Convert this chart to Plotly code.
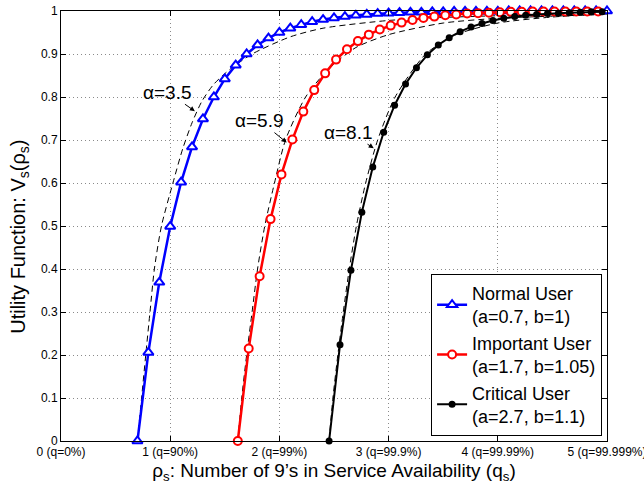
import plotly.graph_objects as go

# Availability axis: number of nines, rho_s
tick_vals = [0, 1, 2, 3, 4, 5]
tick_text = ["0 (q=0%)", "1 (q=90%)", "2 (q=99%)", "3 (q=99.9%)",
             "4 (q=99.99%)", "5 (q=99.999%)"]
y_ticks = [0, 0.1, 0.2, 0.3, 0.4, 0.5, 0.6, 0.7, 0.8, 0.9, 1.0]
y_tick_text = ["0", "0.1", "0.2", "0.3", "0.4", "0.5", "0.6", "0.7", "0.8", "0.9", "1"]

# Normal user (a=0.7, b=1)
normal_x = [0.7, 0.8, 0.9, 1.0, 1.1, 1.2, 1.3, 1.4, 1.5, 1.6, 1.7, 1.8, 1.9, 2.0,
            2.1, 2.2, 2.3, 2.4, 2.5, 2.6, 2.7, 2.8, 2.9, 3.0, 3.1, 3.2, 3.3, 3.4,
            3.5, 3.6, 3.7, 3.8, 3.9, 4.0, 4.1, 4.2, 4.3, 4.4, 4.5, 4.6, 4.7, 4.8,
            4.9, 5.0]
normal_v = [0.000, 0.206, 0.369, 0.499, 0.602, 0.684, 0.749, 0.800, 0.842, 0.874,
            0.900, 0.921, 0.937, 0.950, 0.960, 0.968, 0.975, 0.980, 0.984, 0.987,
            0.990, 0.992, 0.994, 0.995, 0.996, 0.997, 0.997, 0.998, 0.998, 0.999,
            0.999, 0.999, 0.999, 0.999, 1.000, 1.000, 1.000, 1.000, 1.000, 1.000,
            1.000, 1.000, 1.000, 1.000]

# Important user (a=1.7, b=1.05)
important_x = [1.619, 1.719, 1.819, 1.919, 2.019, 2.119, 2.219, 2.319, 2.419, 2.519,
               2.619, 2.719, 2.819, 2.919, 3.019, 3.119, 3.219, 3.319, 3.419, 3.519,
               3.619, 3.719, 3.819, 3.919, 4.019, 4.119, 4.219, 4.319, 4.419, 4.519,
               4.619, 4.719, 4.819, 4.919]
important_v = [0.000, 0.215, 0.383, 0.516, 0.620, 0.701, 0.766, 0.816, 0.855, 0.887,
               0.911, 0.930, 0.945, 0.957, 0.966, 0.973, 0.979, 0.984, 0.987, 0.990,
               0.992, 0.994, 0.995, 0.996, 0.997, 0.998, 0.998, 0.999, 0.999, 0.999,
               0.999, 0.999, 0.999, 0.999]

# Critical user (a=2.7, b=1.1)
critical_x = [2.455, 2.555, 2.655, 2.755, 2.855, 2.955, 3.055, 3.155, 3.255, 3.355,
              3.455, 3.555, 3.655, 3.755, 3.855, 3.955, 4.055, 4.155, 4.255, 4.355,
              4.455, 4.555, 4.655, 4.755, 4.855, 4.955]
critical_v = [0.000, 0.224, 0.397, 0.532, 0.637, 0.718, 0.781, 0.830, 0.868, 0.898,
              0.921, 0.938, 0.952, 0.963, 0.971, 0.978, 0.983, 0.987, 0.990, 0.992,
              0.994, 0.995, 0.996, 0.997, 0.998, 0.998]

# Fitted approximations (dashed)
fit_normal_x = [0.70, 0.738, 0.776, 0.815, 0.855, 0.92, 1.025, 1.115, 1.20, 1.29,
                1.40, 1.55, 1.75, 2.10, 2.40, 3.00, 3.50, 4.00, 5.00]
fit_normal_v = [0.00, 0.10, 0.20, 0.30, 0.40, 0.50, 0.60, 0.68, 0.74, 0.79,
                0.83, 0.865, 0.90, 0.94, 0.96, 0.978, 0.985, 0.989, 0.994]
fit_important_x = [1.619, 1.655, 1.70, 1.75, 1.80, 1.866, 1.955, 2.056, 2.24, 2.45,
                   2.70, 3.00, 3.50, 4.00, 4.50, 5.00]
fit_important_v = [0.00, 0.10, 0.20, 0.30, 0.40, 0.50, 0.60, 0.70, 0.80, 0.865,
                   0.915, 0.945, 0.972, 0.983, 0.988, 0.992]
fit_critical_x = [2.4545, 2.49, 2.535, 2.585, 2.64, 2.705, 2.79, 2.90, 3.06, 3.34,
                  3.62, 4.00, 4.50, 5.00]
fit_critical_v = [0.00, 0.10, 0.20, 0.30, 0.40, 0.50, 0.60, 0.70, 0.80, 0.90,
                  0.945, 0.972, 0.986, 0.993]

# Labels for the fitted exponents, pointing at the dashed curves
alpha_labels = ["α=3.5", "α=5.9", "α=8.1"]
alpha_x = [1.226, 2.067, 2.864]
alpha_y = [0.767, 0.694, 0.681]
alpha_dx = [-27, -27, -25]
alpha_dy = [-19, -22, -16]

FONT = "Liberation Sans, Arial, Helvetica, sans-serif"

fig = go.Figure()

for fx, fv in [(fit_normal_x, fit_normal_v), (fit_important_x, fit_important_v),
               (fit_critical_x, fit_critical_v)]:
    fig.add_trace(go.Scatter(
        x=fx, y=fv, mode="lines", showlegend=False, hoverinfo="skip",
        line=dict(color="black", width=1, dash="6px,4px", shape="spline",
                  smoothing=0.7),
    ))

fig.add_trace(go.Scatter(
    x=normal_x, y=normal_v, mode="lines+markers", cliponaxis=False,
    name="Normal User<br>(a=0.7, b=1)",
    line=dict(color="#0000ff", width=2.5),
    marker=dict(symbol="triangle-up", size=9, color="white",
                line=dict(color="#0000ff", width=2)),
))
fig.add_trace(go.Scatter(
    x=important_x, y=important_v, mode="lines+markers", cliponaxis=False,
    name="Important User<br>(a=1.7, b=1.05)",
    line=dict(color="#ff0000", width=2.5),
    marker=dict(symbol="circle", size=8, color="white",
                line=dict(color="#ff0000", width=2)),
))
fig.add_trace(go.Scatter(
    x=critical_x, y=critical_v, mode="lines+markers", cliponaxis=False,
    name="Critical User<br>(a=2.7, b=1.1)",
    line=dict(color="black", width=2),
    marker=dict(symbol="circle", size=7, color="black"),
))

for txt, hx, hy, dx, dy in zip(alpha_labels, alpha_x, alpha_y, alpha_dx, alpha_dy):
    fig.add_annotation(
        x=hx, y=hy, text=txt, showarrow=True, ax=dx, ay=dy,
        arrowhead=2, arrowsize=1, arrowwidth=1, arrowcolor="black",
        font=dict(family=FONT, size=19, color="black"),
    )

# Vertical axis title
fig.add_annotation(
    text="Utility Function: V<sub>s</sub>(ρ<sub>s</sub>)", textangle=-90,
    xref="paper", yref="paper", x=-0.075, y=0.475,
    xanchor="center", yanchor="middle", showarrow=False,
    font=dict(family=FONT, size=20, color="black"),
)

axis_common = dict(
    showline=True, linecolor="black", linewidth=1, mirror="ticks",
    ticks="inside", ticklen=5, tickcolor="black",
    showgrid=True, gridcolor="#8a8a8a", gridwidth=1, griddash="1px,3px",
    zeroline=False, ticklabeloverflow="allow", automargin=False,
    tickfont=dict(family=FONT, size=12, color="black"),
)

fig.update_layout(
    width=644, height=489,
    margin=dict(l=61, r=37, t=11, b=48),
    paper_bgcolor="white", plot_bgcolor="white",
    font=dict(family=FONT, color="black"),
    xaxis=dict(
        range=[0, 5], tickvals=tick_vals, ticktext=tick_text,
        title=dict(text="ρ<sub>s</sub>: Number of 9’s in Service Availability (q<sub>s</sub>)",
                   font=dict(family=FONT, size=19), standoff=5),
        **axis_common,
    ),
    yaxis=dict(
        range=[0, 1], tickvals=y_ticks, ticktext=y_tick_text,
        **axis_common,
    ),
    legend=dict(
        x=0.991, y=0.012, xanchor="right", yanchor="bottom",
        bgcolor="white", bordercolor="black", borderwidth=1,
        font=dict(family=FONT, size=18, color="black"),
    ),
    showlegend=True,
)

fig.write_html("out.html")
